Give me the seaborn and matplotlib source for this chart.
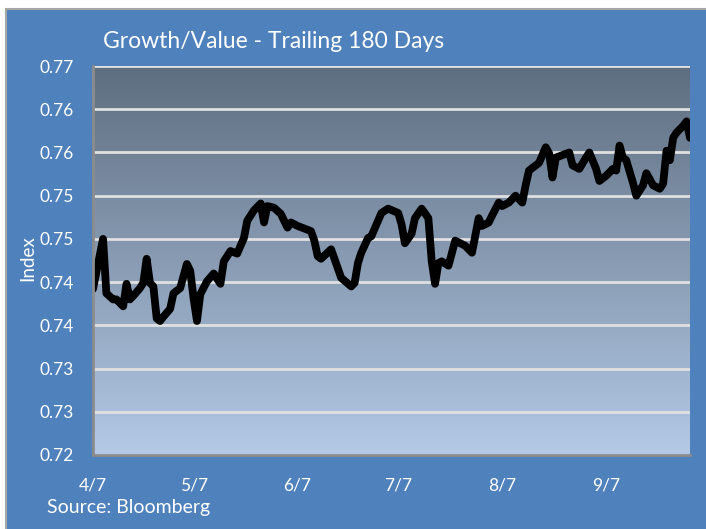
import numpy as np
import pandas as pd
import matplotlib

matplotlib.use("Agg")
import matplotlib.pyplot as plt
from matplotlib.patches import Rectangle
import seaborn as sns

sns.set_style("white")
plt.rcParams["font.family"] = ["Lato", "DejaVu Sans"]

# ---------------------------------------------------------
# Data (day offset from 4/7, ratio value)
# ---------------------------------------------------------
start = pd.Timestamp("2011-04-07")
day_offsets = [
    0, 3, 4, 6, 7, 9, 10, 11, 12, 14, 15, 16, 17, 18, 19, 20, 21, 23, 24, 26,
    28, 29, 30, 31, 32, 34, 36, 38, 39, 41, 43, 45, 46, 48, 50, 51, 52, 54, 56, 58,
    59, 61, 63, 65, 66, 67, 68, 71, 72, 74, 77, 78, 79, 80, 82, 83, 86, 88, 91, 92,
    93, 95, 96, 98, 100, 101, 102, 103, 104, 106, 108, 111, 113, 115, 116, 118, 119, 121, 122, 124,
    126, 128, 129, 130, 132, 133, 135, 136, 137, 138, 140, 142, 143, 145, 147, 148, 150, 151, 153, 155,
    156, 157, 158, 159, 161, 162, 164, 165, 167, 169, 170, 171, 172, 173, 174, 176, 177, 178,
]
ratio = [
    0.7442, 0.7500, 0.7437, 0.7430, 0.7430, 0.7422, 0.7448, 0.7430, 0.7434, 0.7443,
    0.7449, 0.7477, 0.7449, 0.7445, 0.7408, 0.7405, 0.7410, 0.7419, 0.7437, 0.7443,
    0.7471, 0.7463, 0.7431, 0.7405, 0.7436, 0.7451, 0.7460, 0.7448, 0.7474, 0.7486,
    0.7483, 0.7501, 0.7521, 0.7533, 0.7541, 0.7519, 0.7538, 0.7536, 0.7529, 0.7513,
    0.7519, 0.7515, 0.7512, 0.7509, 0.7498, 0.7480, 0.7477, 0.7488, 0.7477, 0.7455,
    0.7445, 0.7449, 0.7472, 0.7484, 0.7501, 0.7503, 0.7530, 0.7535, 0.7530, 0.7517,
    0.7495, 0.7506, 0.7524, 0.7535, 0.7524, 0.7474, 0.7448, 0.7472, 0.7474, 0.7469,
    0.7498, 0.7492, 0.7484, 0.7524, 0.7515, 0.7519, 0.7527, 0.7542, 0.7538, 0.7542,
    0.7550, 0.7542, 0.7562, 0.7579, 0.7585, 0.7588, 0.7606, 0.7599, 0.7571, 0.7594,
    0.7597, 0.7600, 0.7585, 0.7581, 0.7594, 0.7600, 0.7581, 0.7567, 0.7573, 0.7581,
    0.7579, 0.7608, 0.7594, 0.7591, 0.7565, 0.7550, 0.7562, 0.7576, 0.7562, 0.7558,
    0.7564, 0.7602, 0.7591, 0.7617, 0.7623, 0.7631, 0.7636, 0.7617,
]
y_ticks = [0.725, 0.730, 0.735, 0.740, 0.745, 0.750, 0.755, 0.760, 0.765, 0.770]
y_tick_labels = ["0.72", "0.73", "0.73", "0.74", "0.74", "0.75", "0.75", "0.76", "0.76", "0.77"]
x_tick_dates = ["2011-04-07", "2011-05-07", "2011-06-07", "2011-07-07", "2011-08-07", "2011-09-07"]
x_tick_labels = ["4/7", "5/7", "6/7", "7/7", "8/7", "9/7"]

df = pd.DataFrame(
    {"date": start + pd.to_timedelta(day_offsets, unit="D"), "ratio": ratio}
)

# ---------------------------------------------------------
# Figure
# ---------------------------------------------------------
blue = "#4F81BD"
fig = plt.figure(figsize=(7.06, 5.29), dpi=100, facecolor="white")
frame = Rectangle((0.009, -0.01), 1.0, 0.993, transform=fig.transFigure,
                  facecolor=blue, edgecolor="#A6A6A6", linewidth=1.5, zorder=-5)
fig.add_artist(frame)

ax = fig.add_axes([0.1317, 0.1399, 0.8456, 0.7353])
ax.set_facecolor("none")

# gradient plot area (dark slate at top -> pale blue at bottom)
top_c = np.array([0x5E, 0x6E, 0x80]) / 255
bot_c = np.array([0xB3, 0xC9, 0xE6]) / 255
t = np.linspace(0, 1, 256)[:, None]
grad = (top_c * (1 - t) + bot_c * t)[:, None, :].repeat(2, axis=1)
ax.imshow(grad, extent=[0, 1, 0, 1], transform=ax.transAxes,
          aspect="auto", zorder=0, interpolation="bilinear")

for yt in y_ticks[1:]:
    ax.axhline(yt, color="#E0E0E0", linewidth=2, zorder=1)

sns.lineplot(data=df, x="date", y="ratio", ax=ax, color="black",
             linewidth=5.6, zorder=3, solid_joinstyle="round", solid_capstyle="round")

ax.set_xlim(start, start + pd.Timedelta(days=178))
ax.set_ylim(0.725, 0.770)
ax.set_yticks(y_ticks)
ax.set_yticklabels(y_tick_labels)
ax.set_xticks(pd.to_datetime(x_tick_dates))
ax.set_xticklabels(x_tick_labels)

for side in ["top", "right"]:
    ax.spines[side].set_visible(False)
for side in ["left", "bottom"]:
    ax.spines[side].set_color("#8C8C8C")
    ax.spines[side].set_linewidth(2)
    ax.spines[side].set_zorder(4)

ax.tick_params(axis="both", colors="#8C8C8C", direction="out", length=6, width=2,
               labelcolor="white", labelsize=12.5)
ax.tick_params(axis="y", pad=8)
ax.tick_params(axis="x", pad=10)
ax.set_xlabel("")
ax.set_ylabel("Index", color="white", fontsize=13.5)
ax.yaxis.set_label_coords(-0.095, 0.505)

fig.text(0.146, 0.921, "Growth/Value - Trailing 180 Days", color="white",
         fontsize=16.5, ha="left", va="center")
fig.text(0.067, 0.04, "Source: Bloomberg", color="white",
         fontsize=14, ha="left", va="center")

plt.savefig("out.png", dpi=100, facecolor=fig.get_facecolor())
